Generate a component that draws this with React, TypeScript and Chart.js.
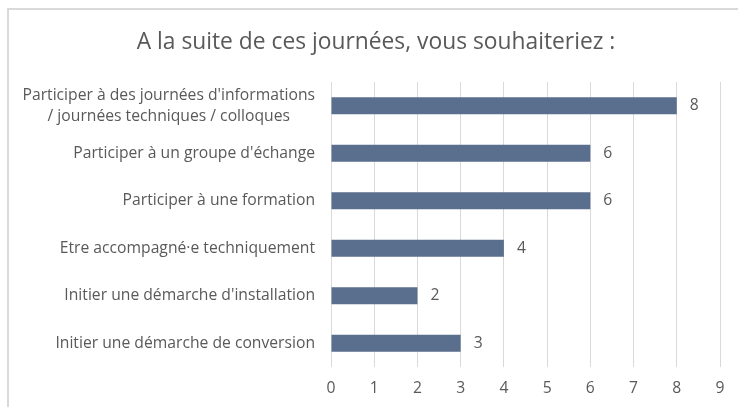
import React, { useEffect, useRef } from 'react';
import { Chart, registerables } from 'chart.js';

Chart.register(...registerables);

const TITLE = 'A la suite de ces journées, vous souhaiteriez :';
const CATEGORIES: string[][] = [
  ["Participer à des journées d'informations", '/ journées techniques / colloques'],
  ["Participer à un groupe d'échange"],
  ['Participer à une formation'],
  ['Etre accompagné·e techniquement'],
  ["Initier une démarche d'installation"],
  ['Initier une démarche de conversion'],
];
const VALUES = [8, 6, 6, 4, 2, 3];
const X_MIN = 0;
const X_MAX = 9;
const X_STEP = 1;

const FONT = '"Open Sans"';
const TEXT_COLOR = '#595959';
const BAR_COLOR = '#5A6E8E';
const GRID_COLOR = '#D9D9D9';
const LABEL_SIZE = 15.7;
const TITLE_SIZE = 22.8;

const titlePlugin = {
  id: 'frameTitle',
  afterDraw(chart: any) {
    const ctx = chart.ctx;
    ctx.save();
    ctx.font = `${TITLE_SIZE}px ${FONT}`;
    ctx.fillStyle = TEXT_COLOR;
    ctx.textBaseline = 'middle';
    ctx.textAlign = 'center';
    ctx.fillText(TITLE, 376, 42.5);
    ctx.restore();
  },
};

const categoryLabelsPlugin = {
  id: 'categoryLabels',
  afterDraw(chart: any) {
    const ctx = chart.ctx;
    const yScale = chart.scales.y;
    const rightX = chart.chartArea.left - 16;
    ctx.save();
    ctx.font = `${LABEL_SIZE}px ${FONT}`;
    ctx.fillStyle = TEXT_COLOR;
    ctx.textBaseline = 'middle';
    ctx.textAlign = 'center';
    const lineH = 21;
    CATEGORIES.forEach((lines, i) => {
      const y = yScale.getPixelForValue(i);
      const widest = Math.max(...lines.map((l) => ctx.measureText(l).width));
      const cx = rightX - widest / 2;
      const startY = y - ((lines.length - 1) * lineH) / 2;
      lines.forEach((l, j) => ctx.fillText(l, cx, startY + j * lineH));
    });
    ctx.restore();
  },
};

const valueLabelsPlugin = {
  id: 'valueLabels',
  afterDatasetsDraw(chart: any) {
    const ctx = chart.ctx;
    const meta = chart.getDatasetMeta(0);
    ctx.save();
    ctx.font = `${LABEL_SIZE}px ${FONT}`;
    ctx.fillStyle = TEXT_COLOR;
    ctx.textBaseline = 'middle';
    ctx.textAlign = 'left';
    meta.data.forEach((el: any, i: number) => {
      ctx.fillText(String(VALUES[i]), el.x + 13, el.y);
    });
    ctx.restore();
  },
};

export default function App() {
  const ref = useRef<HTMLCanvasElement | null>(null);

  useEffect(() => {
    if (!ref.current) return;
    const chart = new Chart(ref.current, {
      type: 'bar',
      data: {
        labels: CATEGORIES.map((c) => c.join(' ')),
        datasets: [
          {
            data: VALUES,
            backgroundColor: BAR_COLOR,
            categoryPercentage: 1,
            barPercentage: 0.36,
          },
        ],
      },
      options: {
        indexAxis: 'y',
        responsive: false,
        animation: false,
        layout: { padding: { left: 0, right: 18, top: 82, bottom: 0 } },
        plugins: {
          legend: { display: false },
          tooltip: { enabled: false },
          title: { display: false },
        },
        scales: {
          x: {
            min: X_MIN,
            max: X_MAX,
            ticks: {
              stepSize: X_STEP,
              color: TEXT_COLOR,
              font: { family: FONT, size: LABEL_SIZE },
              padding: 12,
            },
            grid: { color: GRID_COLOR, drawTicks: false, lineWidth: 1 },
            border: { display: false },
            afterFit: (s: any) => {
              s.height = 40;
            },
          },
          y: {
            ticks: { display: false },
            grid: { display: false },
            border: { display: false },
            afterFit: (s: any) => {
              s.width = 331;
            },
          },
        },
      },
      plugins: [titlePlugin, categoryLabelsPlugin, valueLabelsPlugin],
    });
    return () => chart.destroy();
  }, []);

  return (
    <div
      style={{
        position: 'fixed',
        left: 0,
        top: 0,
        width: 738,
        height: 407,
        overflow: 'hidden',
        background: '#fff',
      }}
    >
      <div
        style={{
          position: 'absolute',
          left: 7,
          top: 8,
          width: 760,
          height: 430,
          border: '2px solid #D9D9D9',
          boxSizing: 'border-box',
        }}
      />
      <canvas
        ref={ref}
        width={738}
        height={407}
        style={{ position: 'absolute', left: 0, top: 0, width: 738, height: 407 }}
      />
    </div>
  );
}
